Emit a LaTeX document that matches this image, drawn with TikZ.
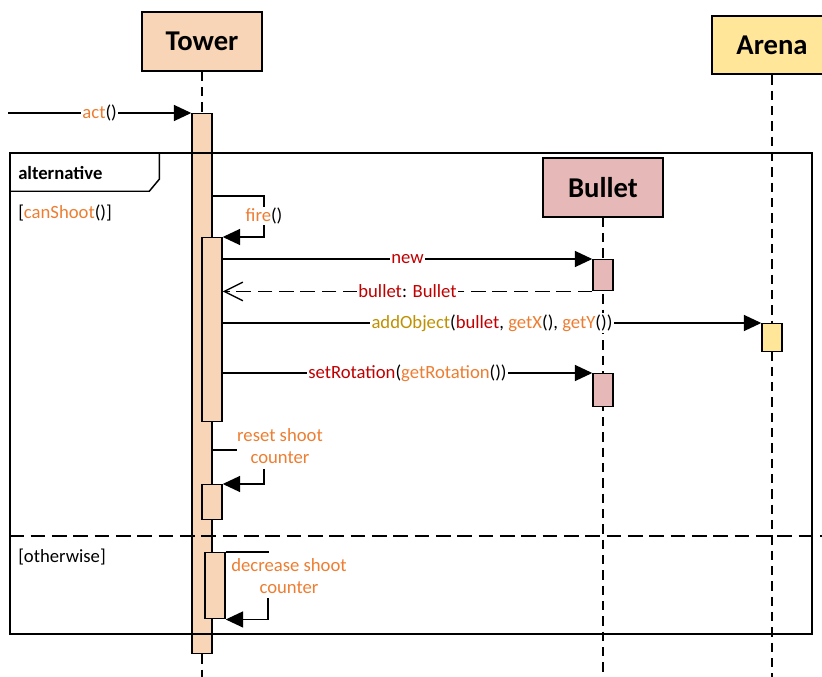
\documentclass[tikz,border=0pt]{standalone}
\usepackage{fontspec}
\setmainfont{Carlito}
\usetikzlibrary{arrows.meta,calc}

\definecolor{towerfill}{HTML}{F9D5B7}
\definecolor{bulletfill}{HTML}{E6B9B8}
\definecolor{arenafill}{HTML}{FFE699}
\definecolor{callorange}{HTML}{ED7D31}
\definecolor{refred}{HTML}{C00000}
\definecolor{apigold}{HTML}{BF9000}

\newcommand{\opName}[1]{\textcolor{callorange}{#1}}
\newcommand{\refName}[1]{\textcolor{refred}{#1}}
\newcommand{\apiName}[1]{\textcolor{apigold}{#1}}

\begin{document}
\begin{tikzpicture}[x=0.75pt, y=-0.75pt,
  obj/.style={draw, line width=1.3pt, minimum width=90pt, minimum height=44pt,
              font=\fontsize{21.5}{25}\selectfont\bfseries},
  bar/.style={draw, line width=1.1pt, minimum width=15pt, inner sep=0pt, anchor=north},
  life/.style={line width=1.1pt, dash pattern=on 7pt off 4.5pt},
  msg/.style={-{Triangle[length=13pt,width=12pt]}, line width=1pt},
  ret/.style={-{Straight Barb[length=14pt,width=14pt]}, line width=1pt, dash pattern=on 11pt off 5pt},
  lbl/.style={font=\fontsize{14}{16.5}\selectfont, fill=white, inner sep=1pt},
  note/.style={font=\fontsize{14}{16.5}\selectfont, text=callorange, align=center, inner sep=0pt},
  guard/.style={font=\fontsize{14}{16.5}\selectfont, anchor=west, inner sep=0pt},
]
\useasboundingbox (0,0) rectangle (822,677);

% --- Objects ---
\node[obj, fill=towerfill] (tower) at (202,41.5) {Tower};
\node[obj, fill=bulletfill] (bullet) at (603,187.5) {Bullet};
\node[obj, fill=arenafill] (arena) at (772,45) {Arena};

% --- Lifelines ---
\coordinate (bottom) at (0,677);
\draw[life] (tower.south) -- (tower.south |- bottom);
\draw[life] (bullet.south) -- (bullet.south |- bottom);
\draw[life] (arena.south) -- (arena.south |- bottom);

% --- Activations ---
\node[bar, fill=towerfill, minimum height=405pt] (tAct) at (202,113) {};
\node[bar, fill=towerfill, minimum height=138pt] (tFire) at (212,237) {};
\node[bar, fill=bulletfill, minimum height=23.25pt] (bNew) at (603,259) {};
\node[bar, fill=arenafill, minimum height=21pt] (aAdd) at (772,323) {};
\node[bar, fill=bulletfill, minimum height=24.75pt] (bRot) at (603,373) {};
\node[bar, fill=towerfill, minimum height=26.25pt] (tReset) at (212,484) {};
\node[bar, fill=towerfill, minimum height=49.5pt] (tDec) at (215,552) {};

% --- Frame ---
\node[draw, line width=1.1pt, minimum width=601.5pt, minimum height=360.75pt, inner sep=0pt] (alt) at (411,393.5) {};
\draw[line width=1.1pt] (alt.north west) ++(0,39) -- ++(140,0) -- ++(10,-12) -- ++(0,-27);
\node[guard, font=\fontsize{14}{16.5}\selectfont\bfseries] (altName) at (18,173) {alternative};
\node[guard] (g1) at (18,213) {[\opName{canShoot}()]};
\coordinate (sepY) at (0,536);
\coordinate (sepEnd) at (822,536);
\draw[line width=1.1pt, dash pattern=on 11pt off 5pt] (alt.west |- sepY) -- (sepEnd);
\node[guard] (g2) at (18,557) {[otherwise]};

% --- Messages ---
\coordinate (start) at (8,113);
\draw[msg] (start) -- (tAct.north west) node[lbl, midway] {\opName{act}()};

\coordinate (fireTop) at (212,196);
\draw[msg] (fireTop) -- ++(52,0) |- (tFire.north east);
\node[lbl] (fireLbl) at (264,216) {\opName{fire}()};

\draw[msg] (tFire.east |- bNew.north) -- (bNew.north west) node[lbl, midway] {\refName{new}};
\draw[ret] (bNew.south west) -- (tFire.east |- bNew.south) node[lbl, midway] {\refName{bullet}: \refName{Bullet}};
\draw[msg] (tFire.east |- aAdd.north) -- (aAdd.north west)
  node[lbl, midway] {\apiName{addObject}(\refName{bullet}, \opName{getX}(), \opName{getY}())};
\draw[msg] (tFire.east |- bRot.north) -- (bRot.north west)
  node[lbl, midway] {\refName{setRotation}(\opName{getRotation}())};

\coordinate (resetTop) at (212,450);
\draw[line width=1pt] (resetTop) -- ++(25,0);
\node[note] (resetLbl) at (280,446) {reset shoot\\counter};
\coordinate (resetEnd) at (264,469);
\draw[msg] (resetEnd) |- (tReset.north east);

\draw[line width=1pt] (tDec.north east) -- ++(43,0);
\node[note] (decLbl) at (289,576) {decrease shoot\\counter};
\coordinate (decEnd) at (268,598);
\draw[msg] (decEnd) |- (tDec.south east);
\end{tikzpicture}
\end{document}
